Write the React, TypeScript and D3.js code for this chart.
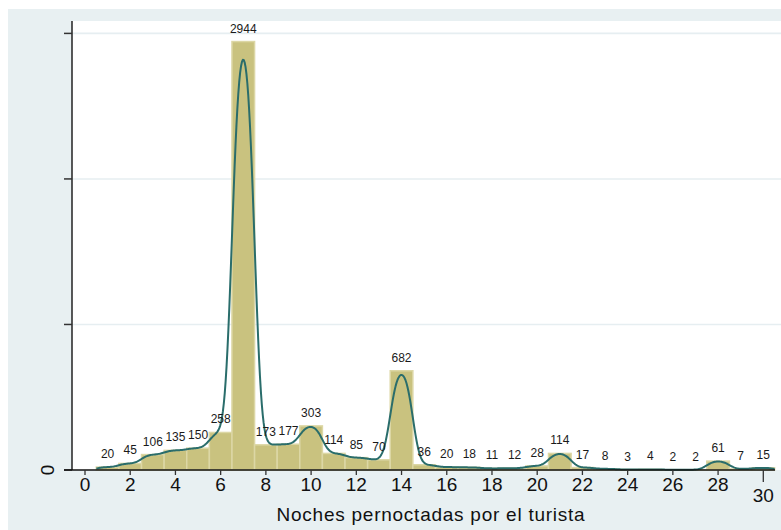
import React from "react";
import * as d3 from "d3";

// Nights spent per tourist: counts for 1..30 nights
const nights: number[] = d3.range(1, 31);
const counts: number[] = [
  20, 45, 106, 135, 150, 258, 2944, 173, 177, 303, 114, 85, 70, 682, 36,
  20, 18, 11, 12, 28, 114, 17, 8, 3, 4, 2, 2, 61, 7, 15,
];
const xTicks: number[] = d3.range(0, 31, 2);
const yTicks: number[] = [0, 1000, 2000, 3000];
const yTickLabels: Record<number, string> = { 0: "0" };
const xTitle = "Noches pernoctadas por el turista";

const W = 781;
const H = 530;
const FONT = "'Liberation Sans', Arial, Helvetica, sans-serif";

// Standard normal CDF (Abramowitz–Stegun erf approximation)
function phi(z: number): number {
  const t = 1 / (1 + 0.3275911 * Math.abs(z / Math.SQRT2));
  const y =
    1 -
    (((((1.061405429 * t - 1.453152027) * t + 1.421413741) * t - 0.284496736) * t +
      0.254829592) *
      t) *
      Math.exp(-(z * z) / 2);
  return z >= 0 ? 0.5 * (1 + y) : 0.5 * (1 - y);
}

// Histogram step function smoothed with a Gaussian kernel
const bandwidth = 0.25;
function smoothed(x: number): number {
  let s = 0;
  nights.forEach((n, i) => {
    s += counts[i] * (phi((x - (n - 0.5)) / bandwidth) - phi((x - (n + 0.5)) / bandwidth));
  });
  return s;
}

export default function App() {
  const x = d3.scaleLinear().domain([0, 30]).range([85, 763.3]);
  const y = d3.scaleLinear().domain([0, 3000]).range([470, 33.4]);
  const plotLeft = 72;
  const plotTop = 21;
  const plotBottom = y(0);

  const gridX = d3.range(0.5, 30.5001, 0.04);
  const line = d3
    .line<number>()
    .x((d) => x(d))
    .y((d) => y(smoothed(d)))
    .curve(d3.curveLinear);

  const bw = x(1) - x(0);

  return (
    <svg
      width={W}
      height={H}
      style={{ position: "absolute", left: 0, top: 0, display: "block" }}
      fontFamily={FONT}
    >
      <rect x={0} y={0} width={W} height={H} fill="#ffffff" />
      <rect x={8} y={9} width={W - 8} height={H - 9} fill="#e8f0f2" />
      <rect x={plotLeft} y={plotTop} width={W - plotLeft} height={plotBottom - plotTop} fill="#ffffff" />

      {/* horizontal gridlines */}
      {yTicks
        .filter((t) => t > 0)
        .map((t) => (
          <line key={t} x1={plotLeft} x2={W} y1={y(t)} y2={y(t)} stroke="#e6eef1" strokeWidth={1.6} />
        ))}

      {/* bars */}
      {nights.map((n, i) => (
        <rect
          key={n}
          x={x(n - 0.5)}
          y={y(counts[i])}
          width={bw}
          height={plotBottom - y(counts[i])}
          fill="#c9c27f"
          stroke="#dcd7a5"
          strokeWidth={1.5}
        />
      ))}

      {/* smoothed line */}
      <path d={line(gridX) || ""} fill="none" stroke="#2a6d6b" strokeWidth={2} strokeLinejoin="round" />

      {/* value labels */}
      {nights.map((n, i) => (
        <text key={n} x={x(n)} y={y(counts[i]) - 9} fontSize={12} textAnchor="middle" fill="#1a1a1a">
          {counts[i]}
        </text>
      ))}

      {/* y axis */}
      <line x1={plotLeft} x2={plotLeft} y1={plotTop} y2={plotBottom} stroke="#222" strokeWidth={1.5} />
      {yTicks.map((t) => (
        <line key={t} x1={plotLeft - 8} x2={plotLeft} y1={y(t)} y2={y(t)} stroke="#333" strokeWidth={1.5} />
      ))}
      {yTicks
        .filter((t) => yTickLabels[t] !== undefined)
        .map((t) => (
          <text
            key={t}
            transform={`translate(${54},${y(t)}) rotate(-90)`}
            fontSize={19}
            textAnchor="middle"
            fill="#111"
          >
            {yTickLabels[t]}
          </text>
        ))}

      {/* x axis */}
      <line x1={plotLeft - 8} x2={775} y1={plotBottom} y2={plotBottom} stroke="#111" strokeWidth={1.5} />
      {xTicks.map((t) => {
        const last = t === 30;
        return (
          <g key={t}>
            <line
              x1={x(t)}
              x2={x(t)}
              y1={plotBottom}
              y2={plotBottom + (last ? 12 : 5)}
              stroke="#333"
              strokeWidth={1.3}
            />
            <text x={x(t)} y={last ? 502 : 491} fontSize={19} textAnchor="middle" fill="#111">
              {t}
            </text>
          </g>
        );
      })}
      <text x={431} y={521} fontSize={19} letterSpacing={0.75} textAnchor="middle" fill="#111">
        {xTitle}
      </text>
    </svg>
  );
}
